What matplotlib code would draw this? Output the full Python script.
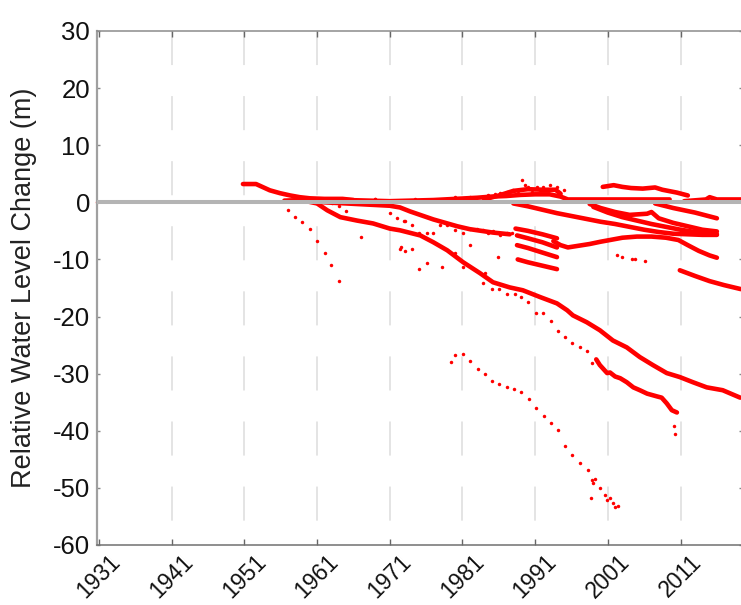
import numpy as np
import matplotlib
matplotlib.use('Agg')
import matplotlib.pyplot as plt

plt.rcParams['font.family'] = ['Liberation Sans', 'DejaVu Sans']
plt.rcParams['axes.unicode_minus'] = False

# tick years on the time axis
tick_years = [1931, 1941, 1951, 1961, 1971, 1981, 1991, 2001, 2011]
ytick_vals = [-60, -50, -40, -30, -20, -10, 0, 10, 20, 30]

# densely sampled wells (drawn as thick traces)
s1_yr = [1950.8, 1952.6, 1954.5, 1955.9, 1957.3, 1958.6, 1960.0, 1962.0, 1964.5, 1966.0]
s1_val = [3.2, 3.2, 2.1, 1.6, 1.2, 0.9, 0.7, 0.6, 0.6, 0.4]

z1_yr = [1956.5, 1959, 1962, 1965, 1968, 1971, 1974, 1977, 1980, 1983, 1985, 1987, 1989, 1991, 1993, 1994.5, 1995.5, 1999, 2003, 2007, 2009.5]
z1_val = [0.3, 0.4, 0.5, 0.4, 0.3, 0.2, 0.3, 0.4, 0.6, 0.8, 1.0, 1.1, 1.3, 1.4, 1.4, 1.0, 0.5, 0.5, 0.5, 0.5, 0.5]

z2_yr = [1984, 1986, 1988, 1990, 1992, 1993.8, 1994.5]
z2_val = [0.5, 1.2, 2.0, 2.3, 2.2, 2.2, 1.5]

z3_yr = [2011.5, 2012.5, 2013.5, 2014.5, 2015, 2016, 2017, 2018, 2019.3]
z3_val = [0.2, 0.3, 0.4, 0.5, 0.9, 0.5, 0.5, 0.5, 0.5]

t_yr = [2000.3, 2001.8, 2003.0, 2004.2, 2005.8, 2007.5, 2008.5, 2010.5, 2012.0]
t_val = [2.7, 3.0, 2.7, 2.5, 2.4, 2.6, 2.2, 1.7, 1.2]

p_yr = [1959.5, 1962, 1965, 1968, 1971, 1972.4, 1973.8, 1977.0, 1980.3, 1982.0, 1985.2, 1987.5]
p_val = [0.2, 0.0, -0.2, -0.4, -0.6, -0.9, -1.6, -3.0, -4.2, -4.7, -5.3, -5.6]

s3_yr = [1959.5, 1961.0, 1962.4, 1964.2, 1966.5, 1968.7, 1971.0, 1972.4, 1975.2, 1977.0, 1978.9, 1981.1,
         1983.4, 1985.2, 1987.5, 1989.3, 1991.7, 1994.0, 1995.4, 1996.2, 1998.1, 1999.9, 2001.7, 2003.6,
         2005.4, 2007.2, 2009.1, 2010.9, 2012.7, 2014.6, 2016.8, 2019.2]
s3_val = [0.2, -0.2, -1.4, -2.6, -3.2, -3.7, -4.6, -4.9, -5.8, -7.0, -8.4, -10.5,
          -12.4, -14.0, -14.9, -15.4, -16.6, -17.7, -18.9, -19.8, -21.0, -22.4, -24.2, -25.4,
          -27.1, -28.5, -29.9, -30.6, -31.5, -32.4, -32.9, -34.2]

s4_yr = [1999.4, 1999.9, 2000.9, 2001.3, 2002.0, 2002.7, 2003.6, 2004.5, 2005.4, 2006.4, 2007.8, 2008.4, 2009.1, 2009.8, 2010.5]
s4_val = [-27.5, -28.5, -29.9, -29.8, -30.5, -30.8, -31.5, -32.4, -32.9, -33.5, -34.0, -34.2, -35.2, -36.4, -36.8]

b1_yr = [1998.5, 2000, 2002, 2004, 2006.4, 2007.0, 2008.0, 2010, 2012, 2014, 2016]
b1_val = [-0.3, -1.0, -1.7, -2.2, -2.0, -1.7, -2.8, -3.6, -4.2, -4.8, -5.1]

b2_yr = [1999, 2001, 2003, 2005, 2007, 2009, 2011, 2013, 2016]
b2_val = [-0.8, -1.8, -2.6, -3.2, -3.8, -4.3, -4.8, -5.2, -5.6]

b3_yr = [1988, 1990, 1992, 1994, 1996, 1998, 2000, 2002, 2004, 2006, 2008, 2010, 2012, 2014, 2016]
b3_val = [-0.2, -0.7, -1.3, -1.9, -2.4, -2.9, -3.4, -3.8, -4.3, -4.8, -5.2, -5.5, -5.6, -5.7, -5.7]

q2_yr = [2007.5, 2010, 2013, 2016]
q2_val = [-0.2, -1.0, -1.8, -2.8]

h_yr = [1993.5, 1994.5, 1995.5, 1997, 1998.5, 2000, 2001.3, 2003, 2005, 2007, 2009, 2010.7, 2012, 2013.5, 2015, 2016]
h_val = [-6.8, -7.5, -7.9, -7.6, -7.3, -6.9, -6.6, -6.2, -6.0, -6.0, -6.2, -6.6, -7.5, -8.5, -9.3, -9.7]

r1_yr = [1988.3, 1990, 1992, 1994]
r1_val = [-4.6, -5.0, -5.6, -6.3]
r2_yr = [1988.5, 1990, 1992, 1994]
r2_val = [-5.8, -6.3, -7.0, -7.9]
r3_yr = [1988.5, 1990, 1992, 1994]
r3_val = [-7.5, -8.0, -8.8, -9.6]
r4_yr = [1988.6, 1990, 1992, 1994]
r4_val = [-10.0, -10.5, -11.1, -11.7]

s5_yr = [2010.9, 2013, 2015, 2017, 2019.3]
s5_val = [-11.9, -12.9, -13.8, -14.5, -15.2]

# sparsely sampled wells (single dots)
d1_yr = [1957.0, 1958.0, 1958.9, 1960.0, 1961.0, 1962.1, 1962.9, 1964.0]
d1_val = [-1.4, -2.6, -3.5, -4.7, -6.8, -8.8, -10.9, -13.7]

w_yr = [1979.4, 1980.0, 1981.1, 1982.0, 1983.1, 1984.1, 1985.1, 1986.0, 1987.1, 1988.1, 1989.0, 1990.1,
        1991.1, 1992.2, 1993.2, 1994.1, 1995.1, 1996.1, 1997.2, 1998.3, 1998.8, 1999.2, 1999.0, 1999.9,
        2000.6, 1998.7, 2000.9, 2001.3, 2001.7, 2002.0, 2002.4]
w_val = [-28.0, -26.8, -26.6, -27.8, -29.1, -30.1, -31.3, -31.9, -32.4, -32.7, -33.3, -34.5,
         -36.1, -37.5, -38.7, -39.8, -42.6, -44.3, -45.7, -46.8, -48.7, -48.5, -49.2, -50.1,
         -51.3, -51.8, -52.2, -51.7, -52.7, -53.4, -53.1]

s4d_yr = [1984.1, 1983.8, 1985.1, 1986.0, 1987.1, 1988.2, 1989.0, 1990.0, 1991.1, 1992.1, 1993.2,
          1994.1, 1995.1, 1996.1, 1997.2, 1998.1, 1998.8, 2010.1, 2010.2]
s4d_val = [-12.3, -14.2, -15.2, -15.2, -16.1, -16.1, -16.5, -17.5, -19.3, -19.4, -20.8,
           -22.6, -23.5, -24.7, -25.4, -26.1, -28.2, -39.2, -40.5]

m_yr = [1930.7, 1963.1, 1964.0, 1965.0, 1967.0, 1969.0, 1971.0, 1972.0, 1972.9, 1972.4, 1973.1,
        1973.1, 1974.1, 1975.0, 1976.1, 1976.9, 1977.9, 1978.9, 1980.0, 1981.1, 1982.0, 1983.0,
        1983.8, 1984.5, 1985.2, 1986.2, 1987.1, 1987.8, 1972.5, 1974.1, 1982.0, 1980.0, 1975.0,
        1976.1, 1978.2, 1981.1, 1985.9, 2002.3, 2002.9, 2004.3, 2004.7, 2006.1]
m_val = [0.0, -0.2, -0.7, -1.6, -6.0, 0.5, -1.9, -2.8, -3.3, -8.1, -8.6,
         -3.3, -3.9, -5.3, -5.3, -5.3, -4.0, -4.0, -4.9, -5.4, -4.6, -4.7,
         -4.9, -5.3, -5.1, -5.8, -5.4, -5.3, -7.9, -8.1, -7.5, -8.8, -11.7,
         -10.7, -11.4, -11.4, -9.6, -9.3, -9.6, -10.0, -10.0, -10.3]

up_yr = [1989.2, 1989.6, 1990.0, 1991.2, 1992.1, 1993.0, 1994.0, 1986.2, 1987.1, 1987.9, 1988.7,
         1990.6, 1991.7, 1994.9, 1980.0, 1982.0, 1984.5, 1985.5, 1969.0, 1974.5]
up_val = [3.9, 3.0, 2.6, 2.6, 2.6, 3.0, 2.6, 1.6, 1.8, 2.1, 1.6,
          1.8, 2.1, 2.1, 0.9, 0.9, 1.2, 1.4, 0.5, 0.6]

traces = [(s1_yr, s1_val), (z1_yr, z1_val), (z2_yr, z2_val), (z3_yr, z3_val), (t_yr, t_val),
          (p_yr, p_val), (s3_yr, s3_val), (s4_yr, s4_val), (b1_yr, b1_val), (b2_yr, b2_val),
          (b3_yr, b3_val), (q2_yr, q2_val), (h_yr, h_val), (r1_yr, r1_val), (r2_yr, r2_val),
          (r3_yr, r3_val), (r4_yr, r4_val), (s5_yr, s5_val)]
dots = [(d1_yr, d1_val), (w_yr, w_val), (s4d_yr, s4d_val), (m_yr, m_val), (up_yr, up_val)]

fig = plt.figure(figsize=(7.41, 6.05), dpi=100)
ax = fig.add_axes([0.1309, 0.0992, 0.8704, 0.8496])

# dashed vertical guide lines, drawn top-down so the dash pattern starts at the top
for yr in tick_years[1:]:
    ax.plot([yr, yr], [30, -60], color='#dcdcdc', lw=1.1, dashes=(22.3, 20.3), zorder=0)

for yr, val in traces:
    ax.plot(yr, val, color='red', lw=3.3, solid_capstyle='round', solid_joinstyle='round', zorder=2)
for yr, val in dots:
    ax.plot(yr, val, 'o', color='red', ms=2.5, mew=0, zorder=2, clip_on=False)

ax.axhline(0, color='#b4b4b4', lw=2.9, zorder=3)

ax.set_xlim(1930.72, 2019.45)
ax.set_ylim(-60, 30)
ax.set_xticks(tick_years)
ax.set_yticks(ytick_vals)
ax.set_xticklabels([str(y) for y in tick_years], rotation=45, ha='center', va='top')
ax.tick_params(axis='both', direction='in', top=True, right=True, labelcolor='#111111')
ax.tick_params(axis='x', length=4.5, width=1.0, pad=4, color='#666666', labelsize=16.5)
ax.tick_params(axis='y', length=2.5, width=1.0, pad=5, color='#888888', labelsize=18.5)
ax.set_ylabel('Relative Water Level Change (m)', fontsize=19.5, color='#222222')
ax.yaxis.set_label_coords(-0.093, 0.5)

ax.spines['left'].set_color('#a0a0a0')
ax.spines['left'].set_linewidth(1.6)
ax.spines['bottom'].set_color('#707070')
ax.spines['bottom'].set_linewidth(1.1)
ax.spines['top'].set_color('#8c8c8c')
ax.spines['top'].set_linewidth(1.1)
ax.spines['right'].set_color('#8c8c8c')

fig.savefig('out.png', dpi=100)
